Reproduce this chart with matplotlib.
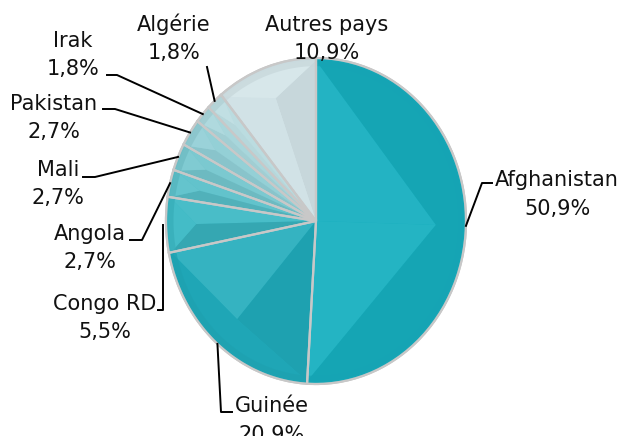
import numpy as np
import matplotlib
matplotlib.use('Agg')
import matplotlib.pyplot as plt
import matplotlib.colors as mcolors
from matplotlib.patches import Polygon

# Data
countries = ['Afghanistan', 'Guinée', 'Congo RD', 'Angola', 'Mali',
             'Pakistan', 'Irak', 'Algérie', 'Autres pays']
shares = [50.9, 20.9, 5.5, 2.7, 2.7, 2.7, 1.8, 1.8, 10.9]
colors = ['#16afbf', '#20abbb', '#3ab8c4', '#58bfc9', '#74c6ce',
          '#90ced5', '#a6d5da', '#badce0', '#d3e4e8']

# label layout in pixels: (x centre, name baseline, value baseline)
label_pos = {
    'Afghanistan': (557, 186, 215),
    'Guinée': (272, 412, 441),
    'Congo RD': (105, 310, 338),
    'Angola': (90, 240, 268),
    'Mali': (58, 176, 204),
    'Pakistan': (54, 110, 138),
    'Irak': (73, 47, 75),
    'Algérie': (174, 31, 59),
    'Autres pays': (327, 31, 59),
}
# leader line elbows in pixels (text side first)
leaders = {
    'Afghanistan': [(492, 183), (482, 183)],
    'Guinée': [(232, 412), (221, 412)],
    'Congo RD': [(158, 310), (163, 310), (163, 225)],
    'Angola': [(130, 240), (142, 240)],
    'Mali': [(83, 177), (95, 177)],
    'Pakistan': [(103, 109), (115, 109)],
    'Irak': [(107, 75), (117, 75)],
    'Algérie': [(207, 67)],
}

W, H = 623, 436
CX, CY, RX, RY = 316, 221, 150, 163


def px(x, y):
    return (x - CX) / RX, (CY - y) / RY


def shade(c, k):
    rgb = np.array(mcolors.to_rgb(c))
    if k > 0:
        return tuple(rgb + (1 - rgb) * k)
    return tuple(rgb * (1 + k))


fig = plt.figure(figsize=(W / 100, H / 100), dpi=100)
ax = fig.add_axes([0, 0, 1, 1])

wedges, _ = ax.pie(shares, colors=colors, startangle=90, counterclock=False,
                   wedgeprops=dict(edgecolor='#c4c4c4', linewidth=1.6))
ax.set_aspect('auto')
ax.set_xlim(-CX / RX, (W - CX) / RX)
ax.set_ylim(-(H - CY) / RY, CY / RY)
ax.axis('off')

# soft bevel facets
light = np.array([-0.55, 0.83])
for w, c in zip(wedges, colors):
    a1, a2 = np.radians(w.theta1), np.radians(w.theta2)
    am = (a1 + a2) / 2
    p = 0.8 * np.array([np.cos(am), np.sin(am)])
    e1 = np.array([np.cos(a1), np.sin(a1)]) * 0.985
    e2 = np.array([np.cos(a2), np.sin(a2)]) * 0.985
    n1 = np.array([np.cos(a1 - np.pi / 2), np.sin(a1 - np.pi / 2)])
    n2 = np.array([np.cos(a2 + np.pi / 2), np.sin(a2 + np.pi / 2)])
    nm = np.array([np.cos(am), np.sin(am)])
    arc = np.linspace(a1, a2, 60)
    arcpts = np.column_stack([np.cos(arc), np.sin(arc)]) * 0.985
    facets = [
        (np.array([[0, 0], e1, p]), n1),
        (np.array([[0, 0], e2, p]), n2),
        (np.vstack([[p], arcpts]), nm),
    ]
    for pts, n in facets:
        k = 0.1 * float(np.dot(n, light))
        ax.add_patch(Polygon(pts, closed=True, facecolor=shade(c, k),
                             edgecolor='none', zorder=2))
    # outer rim
    rim = np.vstack([np.column_stack([np.cos(arc), np.sin(arc)]),
                     np.column_stack([np.cos(arc[::-1]), np.sin(arc[::-1])]) * 0.95])
    ax.add_patch(Polygon(rim, closed=True, facecolor=shade(c, -0.06),
                         edgecolor='none', alpha=0.7, zorder=2))
    w.set_zorder(1)
    ax.add_patch(Polygon(np.vstack([[0, 0], np.column_stack([np.cos(arc), np.sin(arc)])]),
                         closed=True, facecolor='none', edgecolor='#c8c8c8',
                         linewidth=1.6, zorder=3))

# labels and leader lines
for w, name, val in zip(wedges, countries, shares):
    x, yb1, yb2 = label_pos[name]
    ax.text(*px(x, yb1), name, ha='center', va='baseline', fontsize=15,
            color='#111111', zorder=5)
    ax.text(*px(x, yb2), f'{val:.1f}%'.replace('.', ','), ha='center',
            va='baseline', fontsize=15, color='#111111', zorder=5)
    if name in leaders:
        am = np.radians((w.theta1 + w.theta2) / 2)
        pts = [px(*q) for q in leaders[name]]
        if name != 'Congo RD':
            pts.append((np.cos(am), np.sin(am)))
        xs, ys = zip(*pts)
        ax.plot(xs, ys, color='black', linewidth=1.4, zorder=4)

fig.savefig('out.png', dpi=100, facecolor='white')
